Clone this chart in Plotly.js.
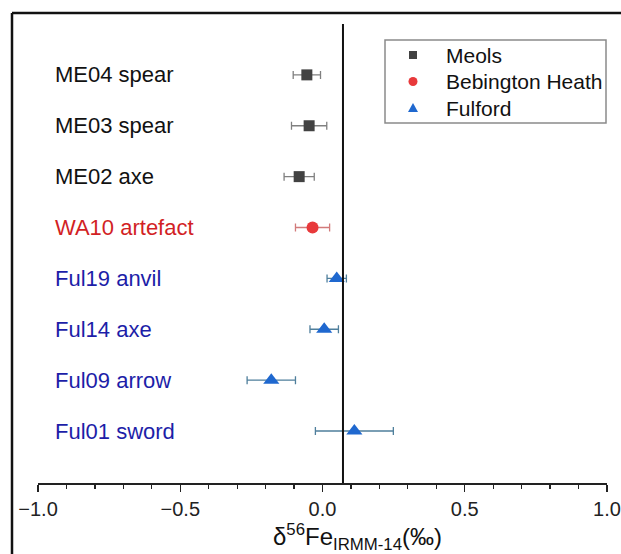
<!DOCTYPE html>
<html>
<head>
<meta charset="utf-8">
<script src="https://cdn.plot.ly/plotly-3.0.1.min.js"></script>
<style>html,body{margin:0;padding:0;background:#fff;}#chart{width:621px;height:554px;}</style>
</head>
<body>
<div id="chart"></div>
<script>
// Samples listed top to bottom
const sampleLabels = ["ME04 spear", "ME03 spear", "ME02 axe", "WA10 artefact", "Ful19 anvil", "Ful14 axe", "Ful09 arrow", "Ful01 sword"];
const sampleGroups = ["Meols", "Meols", "Meols", "Bebington Heath", "Fulford", "Fulford", "Fulford", "Fulford"];
const deltaFe = [-0.055, -0.047, -0.082, -0.035, 0.050, 0.006, -0.180, 0.112];
const deltaErr = [0.048, 0.062, 0.053, 0.060, 0.034, 0.050, 0.085, 0.137];
const groupNames = ["Meols", "Bebington Heath", "Fulford"];
const groupSymbols = ["square", "circle", "triangle-up"];
const groupMarkerColors = ["#424242", "#e8393b", "#1f68cf"];
const groupErrorColors = ["#808080", "#d27a7a", "#4f7f9c"];
const groupLabelColors = ["#111111", "#d21f25", "#1d1ea8"];
const groupMarkerSizes = [11, 12, 14];
const referenceLine = 0.072;
const xTickVals = [-1.0, -0.5, 0.0, 0.5, 1.0];
const xTitle = "δ<sup>56</sup>Fe<sub>IRMM-14</sub>(‰)";

const FONT = "Liberation Sans, Arial, sans-serif";
const W = 621, H = 554, ML = 38, MR = 14, MT = 24, MB = 71;
const PW = W - ML - MR, PH = H - MT - MB;
const px2x = px => (px - ML) / PW;
const px2y = py => (H - MB - py) / PH;

const n = sampleLabels.length;
const yPos = sampleLabels.map((_, i) => n - i);

const traces = groupNames.map((g, gi) => {
  const idx = sampleGroups.map((s, i) => s === g ? i : -1).filter(i => i >= 0);
  return {
    type: "scatter",
    mode: "markers",
    name: g,
    showlegend: false,
    x: idx.map(i => deltaFe[i]),
    y: idx.map(i => yPos[i]),
    error_x: {type: "data", array: idx.map(i => deltaErr[i]), visible: true, color: groupErrorColors[gi], thickness: 1.3, width: 4},
    marker: {symbol: groupSymbols[gi], color: groupMarkerColors[gi], size: groupMarkerSizes[gi], line: {width: 0}},
    hoverinfo: "x+name"
  };
});

const annotations = sampleLabels.map((lab, i) => ({
  x: -0.947, y: yPos[i], xref: "x", yref: "y",
  text: lab, showarrow: false, xanchor: "left", yanchor: "middle",
  font: {family: FONT, size: 22, color: groupLabelColors[groupNames.indexOf(sampleGroups[i])]}
}));

// x-axis title (placed as in the reference, right of centre)
annotations.push({
  x: px2x(357), y: px2y(537), xref: "paper", yref: "paper",
  text: xTitle, showarrow: false, xanchor: "center", yanchor: "middle",
  font: {family: FONT, size: 24, color: "#111"}
});

// Manual legend (box, symbols, names)
const legX0 = 385, legX1 = 606, legY0 = 40, legY1 = 123;
const legSymX = 413, legTextX = 444;
const legRows = [55, 81.5, 108];
const shapes = [
  {type: "line", xref: "x", yref: "paper", x0: referenceLine, x1: referenceLine, y0: 0, y1: 1, line: {color: "#111", width: 2}},
  {type: "line", xref: "paper", yref: "paper", x0: px2x(12), x1: px2x(640), y0: px2y(13), y1: px2y(13), line: {color: "#111", width: 2.5}},
  {type: "line", xref: "paper", yref: "paper", x0: px2x(12), x1: px2x(12), y0: px2y(13), y1: px2y(600), line: {color: "#111", width: 2.5}},
  {type: "rect", xref: "paper", yref: "paper", x0: px2x(legX0), x1: px2x(legX1), y0: px2y(legY1), y1: px2y(legY0), line: {color: "#8a8a8a", width: 1.5}, fillcolor: "rgba(255,255,255,1)", layer: "above"}
];
groupNames.forEach((g, gi) => {
  const cy = legRows[gi];
  if (groupSymbols[gi] === "square") {
    shapes.push({type: "rect", xref: "paper", yref: "paper", x0: px2x(legSymX - 4), x1: px2x(legSymX + 4), y0: px2y(cy + 4), y1: px2y(cy - 4), line: {width: 0}, fillcolor: groupMarkerColors[gi], layer: "above"});
  } else if (groupSymbols[gi] === "circle") {
    shapes.push({type: "circle", xref: "paper", yref: "paper", x0: px2x(legSymX - 4.5), x1: px2x(legSymX + 4.5), y0: px2y(cy + 4.5), y1: px2y(cy - 4.5), line: {width: 0}, fillcolor: groupMarkerColors[gi], layer: "above"});
  } else {
    const p = `M ${px2x(legSymX - 5)} ${px2y(cy + 4)} L ${px2x(legSymX + 5)} ${px2y(cy + 4)} L ${px2x(legSymX)} ${px2y(cy - 5)} Z`;
    shapes.push({type: "path", xref: "paper", yref: "paper", path: p, line: {width: 0}, fillcolor: groupMarkerColors[gi], layer: "above"});
  }
  annotations.push({
    x: px2x(legTextX), y: px2y(cy), xref: "paper", yref: "paper",
    text: g, showarrow: false, xanchor: "left", yanchor: "middle",
    font: {family: FONT, size: 21, color: "#111"}
  });
});

const layout = {
  width: W, height: H,
  margin: {l: ML, r: MR, t: MT, b: MB},
  paper_bgcolor: "#ffffff", plot_bgcolor: "#ffffff",
  showlegend: false,
  xaxis: {
    range: [-1, 1], tickvals: xTickVals, tickformat: ".1f",
    ticks: "outside", ticklen: 7, tickwidth: 1.3, tickcolor: "#222",
    minor: {dtick: 0.1, ticks: "outside", ticklen: 4, tickwidth: 1.2, tickcolor: "#222", showgrid: false},
    showline: true, linecolor: "#222", linewidth: 1.5,
    showgrid: false, zeroline: false,
    tickfont: {family: FONT, size: 20, color: "#222"}
  },
  yaxis: {
    range: [-0.022, 9.0], visible: false, fixedrange: true
  },
  annotations: annotations,
  shapes: shapes
};

Plotly.newPlot("chart", traces, layout, {displayModeBar: false, staticPlot: true});
</script>
</body>
</html>
